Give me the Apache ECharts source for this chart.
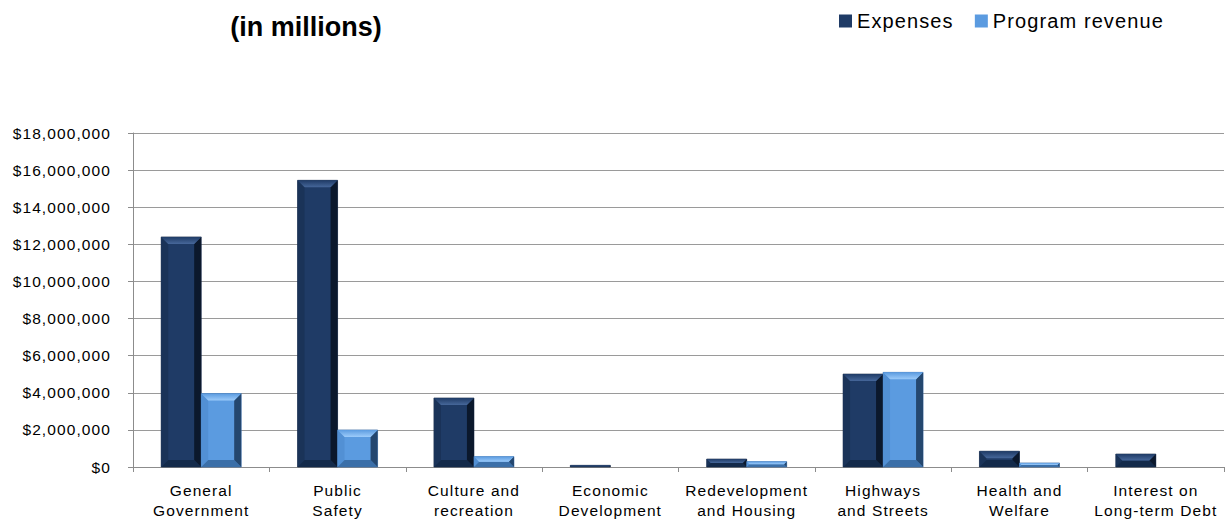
<!DOCTYPE html>
<html>
<head>
<meta charset="utf-8">
<script src="https://cdn.jsdelivr.net/npm/echarts@6/dist/echarts.min.js"></script>
<style>
  html, body { margin: 0; padding: 0; background: #ffffff; }
  #chart { width: 1225px; height: 521px; }
  /* wide, airy lettering for axis and legend text; title stays tight */
  #chart text { letter-spacing: 1.1px; }
  #chart text[style*="bold"] { letter-spacing: 0; }
</style>
</head>
<body>
<div id="chart"></div>
<script>
// Government activities by function
const categories = [
  'General\nGovernment',
  'Public\nSafety',
  'Culture and\nrecreation',
  'Economic\nDevelopment',
  'Redevelopment\nand Housing',
  'Highways\nand Streets',
  'Health and\nWelfare',
  'Interest on\nLong-term Debt'
];
const expenses = [12400000, 15450000, 3720000, 90000, 430000, 5010000, 850000, 700000];
const programRevenue = [3960000, 2000000, 560000, 0, 290000, 5100000, 220000, 0];
const yTicks = [0, 2000000, 4000000, 6000000, 8000000, 10000000, 12000000, 14000000, 16000000, 18000000];

const FONT = '"Liberation Sans", Arial, sans-serif';

const palettes = {
  expense: { face: '#1f3b66', left: '#1a3358', top: '#46679a', right: '#0b182c', bottom: '#132a4a', edge: '#0f2240' },
  revenue: { face: '#5b9be0', left: '#5290d4', top: '#9ccbfa', right: '#24476f', bottom: '#3b6fa8', edge: '#3a6aa3' }
};

function fmt(v) {
  return '$' + v.toLocaleString('en-US');
}

// Bevelled column drawn through the category/value axes.
// side = -1 puts the column left of the category centre, +1 right of it.
function bevelRenderer(pal, side) {
  return function (params, api) {
    const cat = api.value(0);
    const val = api.value(1);
    if (!val) return null;
    const topPt = api.coord([cat, val]);
    const basePt = api.coord([cat, 0]);
    const w = 40;
    const x0 = side < 0 ? topPt[0] - w : topPt[0];
    const x1 = x0 + w;
    const y0 = topPt[1];
    const y1 = basePt[1];
    const h = y1 - y0;
    const d = Math.max(0.5, Math.min(7, h / 2, w / 2));
    const poly = (pts, fill) => ({ type: 'polygon', shape: { points: pts }, style: { fill: fill }, silent: true });
    return {
      type: 'group',
      children: [
        { type: 'rect', shape: { x: x0, y: y0, width: w, height: h }, style: { fill: pal.face, stroke: pal.edge, lineWidth: 0.6 } },
        poly([[x0, y0], [x0, y1], [x0 + d, y1 - d], [x0 + d, y0 + d]], pal.left),
        poly([[x0, y1], [x1, y1], [x1 - d, y1 - d], [x0 + d, y1 - d]], pal.bottom),
        poly([[x1, y0], [x1, y1], [x1 - d, y1 - d], [x1 - d, y0 + d]], pal.right),
        poly([[x0, y0], [x1, y0], [x1 - d, y0 + d], [x0 + d, y0 + d]], {
          type: 'linear', x: 0, y: 0, x2: 0, y2: 1,
          colorStops: [{ offset: 0, color: pal.face }, { offset: 1, color: pal.top }]
        })
      ]
    };
  };
}

const chart = echarts.init(document.getElementById('chart'), null, { renderer: 'svg' });

chart.setOption({
  backgroundColor: '#ffffff',
  animation: false,
  title: {
    text: '(in millions)',
    left: 301,
    top: 8,
    textAlign: 'center',
    textStyle: { fontFamily: FONT, fontSize: 27, fontWeight: 'bold', color: '#000000' }
  },
  legend: {
    left: 839,
    top: 11,
    padding: 0,
    itemWidth: 13,
    itemHeight: 13,
    itemGap: 30,
    icon: 'rect',
    textStyle: { fontFamily: FONT, fontSize: 20, color: '#000000' },
    data: ['Expenses', 'Program revenue']
  },
  grid: { left: 133, right: 1, top: 133, bottom: 54, containLabel: false },
  xAxis: {
    type: 'category',
    data: categories,
    axisLine: { show: true, lineStyle: { color: '#8c8c8c', width: 1 } },
    axisTick: { show: true, length: 5, lineStyle: { color: '#8c8c8c' } },
    axisLabel: {
      fontFamily: FONT, fontSize: 15.5, color: '#000000',
      margin: 13, lineHeight: 20, interval: 0
    }
  },
  yAxis: {
    type: 'value',
    min: yTicks[0],
    max: yTicks[yTicks.length - 1],
    interval: yTicks[1] - yTicks[0],
    axisLine: { show: true, lineStyle: { color: '#8c8c8c', width: 1 } },
    axisTick: { show: true, length: 5, lineStyle: { color: '#8c8c8c' } },
    splitLine: { show: true, lineStyle: { color: '#9a9a9a', width: 1 } },
    axisLabel: {
      fontFamily: FONT, fontSize: 15.5, color: '#000000', margin: 22,
      formatter: fmt
    }
  },
  series: [
    {
      name: 'Expenses',
      type: 'custom',
      renderItem: bevelRenderer(palettes.expense, -1),
      itemStyle: { color: palettes.expense.face },
      encode: { x: 0, y: 1 },
      data: expenses.map((v, i) => [i, v])
    },
    {
      name: 'Program revenue',
      type: 'custom',
      renderItem: bevelRenderer(palettes.revenue, 1),
      itemStyle: { color: palettes.revenue.face },
      encode: { x: 0, y: 1 },
      data: programRevenue.map((v, i) => [i, v])
    }
  ]
});
</script>
</body>
</html>
